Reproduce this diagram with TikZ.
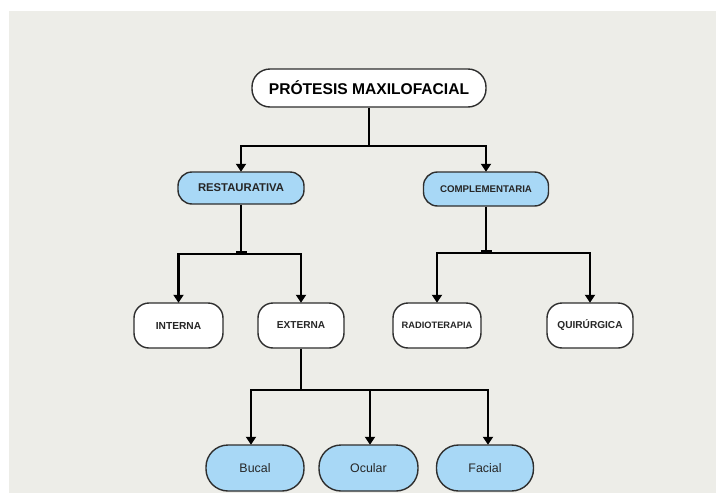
\documentclass[tikz,border=0pt]{standalone}
\usepackage{fontspec}
\setmainfont{Liberation Sans}
\usetikzlibrary{arrows.meta,calc}
\definecolor{bggray}{HTML}{EDEDE8}
\definecolor{boxblue}{HTML}{A8D8F6}
\definecolor{edgegray}{HTML}{2E2E2E}
\definecolor{txtgray}{HTML}{262626}
\tikzset{
  base/.style={draw=edgegray, line width=1.4pt, inner sep=0pt, align=center, text=txtgray},
  whitebox/.style={base, fill=white},
  bluebox/.style={base, fill=boxblue},
  link/.style={line width=2.8pt, draw=black},
  arr/.style={link, -{Triangle[width=10pt,length=8pt]}, shorten >=-0.5pt},
  tick/.style={fill=black, draw=none}
}
\begin{document}
\begin{tikzpicture}[x=1pt,y=-1pt]
\useasboundingbox (0,0) rectangle (716,493);
\fill[white] (0,0) rectangle (716,493);
\fill[bggray] (9,11) rectangle (716,493);

% nodes
\node[whitebox, minimum width=234pt, minimum height=38pt, rounded corners=18pt, text=black,
      font=\bfseries\fontsize{15.6}{18}\selectfont] (top) at (369,88) {PRÓTESIS MAXILOFACIAL};
\node[bluebox, minimum width=126pt, minimum height=32pt, rounded corners=14pt,
      font=\bfseries\fontsize{11.3}{13}\selectfont] (rest) at (241,188) {RESTAURATIVA};
\node[bluebox, minimum width=125pt, minimum height=34pt, rounded corners=14pt,
      font=\bfseries\fontsize{9.7}{12}\selectfont] (comp) at (486,189) {COMPLEMENTARIA};
\node[whitebox, minimum width=89pt, minimum height=45pt, rounded corners=15pt,
      font=\bfseries\fontsize{10.2}{12}\selectfont] (int) at (178.5,325.5) {INTERNA};
\node[whitebox, minimum width=86pt, minimum height=45pt, rounded corners=15pt,
      font=\bfseries\fontsize{10.1}{12}\selectfont] (ext) at (301,325.5) {EXTERNA};
\node[whitebox, minimum width=88pt, minimum height=45pt, rounded corners=15pt,
      font=\bfseries\fontsize{9.3}{11}\selectfont] (radio) at (437,325.5) {RADIOTERAPIA};
\node[whitebox, minimum width=86pt, minimum height=45pt, rounded corners=15pt,
      font=\bfseries\fontsize{10.1}{12}\selectfont] (quir) at (590,325.5) {QUIRÚRGICA};
\node[bluebox, minimum width=98pt, minimum height=46pt, rounded corners=22pt,
      font=\fontsize{12.4}{14}\selectfont] (bucal) at (255,468) {Bucal};
\node[bluebox, minimum width=99pt, minimum height=46pt, rounded corners=22pt,
      font=\fontsize{12.4}{14}\selectfont] (ocular) at (368.5,468) {Ocular};
\node[bluebox, minimum width=97pt, minimum height=46pt, rounded corners=22pt,
      font=\fontsize{12.4}{14}\selectfont] (facial) at (485,468) {Facial};

% junction coordinates
\coordinate (j0) at (369,146);
\coordinate (j0l) at (241,146);
\coordinate (j0r) at (486,146);
\coordinate (j1) at (241,254);
\coordinate (j1l) at (178.5,254);
\coordinate (j1r) at (301,254);
\coordinate (j2) at (486,253);
\coordinate (j2l) at (437,253);
\coordinate (j2r) at (590,253);
\coordinate (j3) at (301,390);
\coordinate (j3a) at (251,390);
\coordinate (j3b) at (370,390);
\coordinate (j3c) at (488,390);

% level 1
\draw[line width=1.1pt] (top.south) -- (j0);
\draw[link, line cap=rect] (j0l) -- (j0r);
\draw[arr] (j0l) -- (rest.north);
\draw[arr] (j0r) -- (comp.north);

% level 2 left
\draw[link] (rest.south) -- (j1);
\draw[link, line cap=rect] (j1l) -- (j1r);
\fill[tick] ($(j1)+(-5.5,-3.2)$) rectangle ($(j1)+(5.5,0)$);
\draw[arr] (j1l) -- (int.north);
\draw[arr] (j1r) -- (ext.north);

% level 2 right
\draw[link] (comp.south) -- (j2);
\draw[link, line cap=rect] (j2l) -- (j2r);
\fill[tick] ($(j2)+(-5.5,-3.2)$) rectangle ($(j2)+(5.5,0)$);
\draw[arr] (j2l) -- (radio.north);
\draw[arr] (j2r) -- (quir.north);

% level 3
\draw[link] (ext.south) -- (j3);
\draw[link, line cap=rect] (j3a) -- (j3c);
\draw[arr] (j3a) -- (j3a |- bucal.north);
\draw[arr] (j3b) -- (j3b |- ocular.north);
\draw[arr] (j3c) -- (j3c |- facial.north);
\end{tikzpicture}
\end{document}
